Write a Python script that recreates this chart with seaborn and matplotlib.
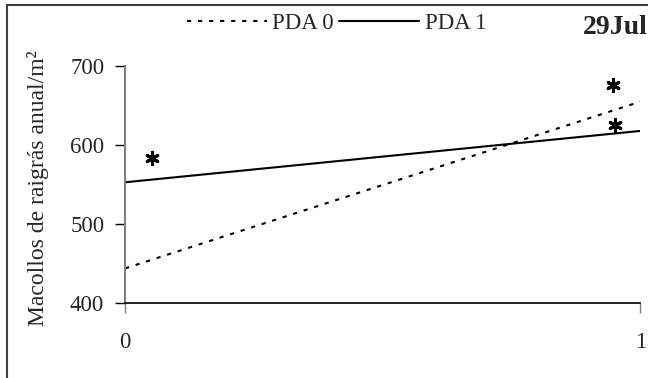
import matplotlib
matplotlib.use("Agg")
import matplotlib.pyplot as plt
import seaborn as sns
import pandas as pd
from matplotlib.patches import Rectangle
from matplotlib.lines import Line2D

x_vals = [0, 1]
pda0 = [444, 655]
pda1 = [553, 618]
series_names = ["PDA 0", "PDA 1"]
star_x = [0.052, 0.948, 0.951]
star_y = [584, 676, 626]
y_ticks = [400, 500, 600, 700]
x_ticks = [0, 1]
y_label = "Macollos de raigrás anual/m²"
date_label = "29Jul"

sns.set_theme(style="white")
plt.rcParams['font.family'] = ['Liberation Serif', 'DejaVu Serif']

df = pd.DataFrame({
    "x": x_vals * 2,
    "y": pda0 + pda1,
    "serie": [series_names[0]] * 2 + [series_names[1]] * 2,
})

fig = plt.figure(figsize=(6.48, 3.78), dpi=100)
ax = fig.add_axes([0.193, 0.198, 0.795, 0.627])

dot_pattern = (2, 3.3)
sns.lineplot(data=df, x="x", y="y", hue="serie", style="serie",
             palette=["black", "black"],
             dashes={series_names[0]: dot_pattern, series_names[1]: ""},
             linewidth=1.5, ax=ax, legend=False)

sns.scatterplot(x=star_x, y=star_y, marker=(6, 2, 0), s=75, linewidth=2.2,
                color="black", ax=ax, legend=False, zorder=5, clip_on=False)

ax.set_xlim(0, 1)
ax.set_ylim(400, 700)
ax.set_yticks(y_ticks)
ax.set_xticks(x_ticks)
ax.set_xticklabels([str(t) for t in x_ticks])
ax.set_xlabel("")
ax.set_ylabel(y_label, fontsize=17)
ax.yaxis.set_label_coords(-0.148, 0.483)
ax.tick_params(axis="y", direction="out", length=7, width=1, color="black",
               labelsize=16.5, pad=8, left=True)
ax.tick_params(axis="x", direction="out", length=7, width=1, color="#808080",
               labelsize=16.5, pad=14, bottom=True)
for s in ["top", "right"]:
    ax.spines[s].set_visible(False)
ax.spines["left"].set_color("#808080")
ax.spines["left"].set_linewidth(1.5)
ax.spines["bottom"].set_color("black")
ax.spines["bottom"].set_linewidth(1.2)
ax.grid(False)

handles = [Line2D([], [], color="black", lw=1.5, linestyle=(0, dot_pattern)),
           Line2D([], [], color="black", lw=1.5)]
fig.legend(handles, series_names, loc="center", bbox_to_anchor=(0.519, 0.937),
           ncol=2, frameon=False, fontsize=16.5, handlelength=3.5,
           handletextpad=0.25, columnspacing=0.2, borderpad=0, borderaxespad=0)

fig.text(0.999, 0.928, date_label, ha="right", va="center", fontsize=20,
         fontweight="bold")

fig.patches.append(Rectangle((7 / 648, -0.5), 2.0, 0.5 + 1 - 5 / 378,
                             transform=fig.transFigure, fill=False,
                             edgecolor="#404040", linewidth=1.5))

fig.savefig("out.png", dpi=100)
